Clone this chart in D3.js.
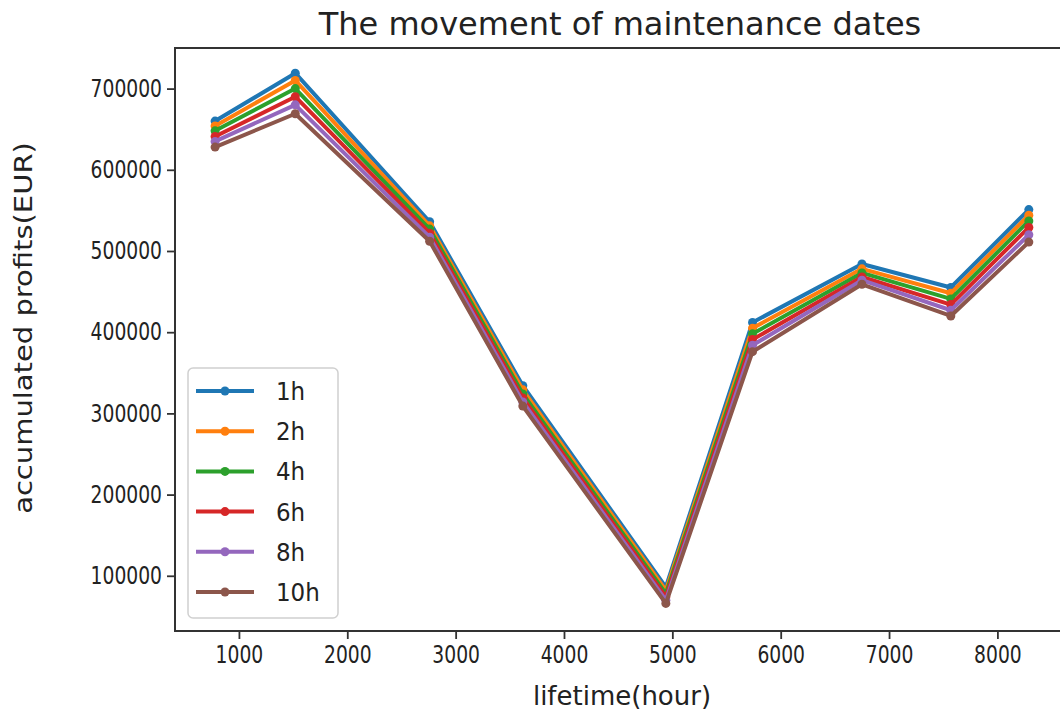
<!DOCTYPE html>
<html>
<head>
<meta charset="utf-8">
<script src="https://cdn.jsdelivr.net/npm/d3@7"></script>
<style>
  html, body { margin: 0; padding: 0; background: #fff; overflow: hidden; }
  svg { display: block; font-family: "DejaVu Sans", sans-serif; }
</style>
</head>
<body>
<svg id="chart" width="1060" height="715"></svg>
<script>
// Maintenance time points (hours of lifetime)
const lifetime = [780, 1520, 2760, 3620, 4940, 5740, 6750, 7570, 8290];

// Accumulated profits (EUR) for each maintenance duration
const series_1h  = [660000, 719000, 536000, 334000, 86000, 412000, 484000, 455000, 551000];
const series_2h  = [654000, 710000, 531000, 329000, 82000, 405000, 478000, 448000, 544000];
const series_4h  = [648000, 700000, 527000, 324000, 78000, 398000, 473000, 441000, 537000];
const series_6h  = [641000, 690000, 522000, 319000, 74000, 391000, 468000, 434000, 529000];
const series_8h  = [635000, 680000, 517000, 314000, 70000, 384000, 464000, 427000, 520000];
const series_10h = [628000, 669000, 512000, 309000, 66000, 376000, 459000, 420000, 511000];

const seriesNames = ["1h", "2h", "4h", "6h", "8h", "10h"];
const seriesValues = [series_1h, series_2h, series_4h, series_6h, series_8h, series_10h];
const colors = ["#1f77b4", "#ff7f0e", "#2ca02c", "#d62728", "#9467bd", "#8c564b"];

const xTicks = [1000, 2000, 3000, 4000, 5000, 6000, 7000, 8000];
const yTicks = [100000, 200000, 300000, 400000, 500000, 600000, 700000];

const svg = d3.select("#chart");
const plotLeft = 175, plotTop = 48, plotRight = 1070, plotBottom = 631;

const x = d3.scaleLinear().domain([410, 8670]).range([plotLeft, plotRight]);
const y = d3.scaleLinear().domain([32000, 750000]).range([plotBottom, plotTop]);

const textColor = "#222";
const tickFont = 24, tickStretch = 0.78;

// Axes
const xAxis = svg.append("g")
  .attr("transform", `translate(0,${plotBottom})`)
  .call(d3.axisBottom(x).tickValues(xTicks).tickFormat(d3.format("d")).tickSize(8).tickPadding(5));
const yAxis = svg.append("g")
  .attr("transform", `translate(${plotLeft},0)`)
  .call(d3.axisLeft(y).tickValues(yTicks).tickFormat(d3.format("d")).tickSize(8).tickPadding(5));

[xAxis, yAxis].forEach(g => {
  g.selectAll("line").attr("stroke", "#333").attr("stroke-width", 1.8);
  g.select(".domain").remove();
});

// Tick labels are drawn condensed around their anchor
xAxis.selectAll(".tick text")
  .attr("font-size", tickFont).attr("fill", textColor).attr("font-family", "DejaVu Sans")
  .attr("transform", `scale(${tickStretch},1)`)
  .attr("dy", "0.78em");
yAxis.selectAll(".tick text")
  .attr("font-size", tickFont).attr("fill", textColor).attr("font-family", "DejaVu Sans")
  .each(function () {
    const t = d3.select(this);
    const xx = +t.attr("x");
    t.attr("x", xx / tickStretch).attr("transform", `scale(${tickStretch},1)`);
  });

// Frame (right spine falls past the page edge)
svg.append("rect")
  .attr("x", plotLeft).attr("y", plotTop)
  .attr("width", plotRight - plotLeft).attr("height", plotBottom - plotTop)
  .attr("fill", "none").attr("stroke", "#333").attr("stroke-width", 2);

// Lines and markers
const line = d3.line().x((d, i) => x(lifetime[i])).y(d => y(d));
seriesValues.forEach((vals, k) => {
  svg.append("path")
    .datum(vals)
    .attr("d", line)
    .attr("fill", "none")
    .attr("stroke", colors[k])
    .attr("stroke-width", 4)
    .attr("stroke-linejoin", "round");
  svg.append("g").selectAll("circle")
    .data(vals)
    .join("circle")
    .attr("cx", (d, i) => x(lifetime[i]))
    .attr("cy", d => y(d))
    .attr("r", 4.5)
    .attr("fill", colors[k]);
});

// Title and axis labels
svg.append("text")
  .attr("x", 620).attr("y", 35)
  .attr("text-anchor", "middle")
  .attr("font-size", 32).attr("fill", textColor)
  .text("The movement of maintenance dates");

svg.append("text")
  .attr("x", 622).attr("y", 705)
  .attr("text-anchor", "middle")
  .attr("font-size", 26).attr("fill", textColor)
  .text("lifetime(hour)");

svg.append("text")
  .attr("transform", `translate(32,328) rotate(-90) scale(1,0.87)`)
  .attr("text-anchor", "middle")
  .attr("font-size", 29).attr("fill", textColor)
  .text("accumulated profits(EUR)");

// Legend
const lg = svg.append("g").attr("transform", "translate(188,368)");
lg.append("rect")
  .attr("x", 0).attr("y", 0).attr("width", 150).attr("height", 250)
  .attr("rx", 5).attr("fill", "#fff").attr("fill-opacity", 0.85)
  .attr("stroke", "#d0d0d0").attr("stroke-width", 1.5);
seriesNames.forEach((name, k) => {
  const cy = 23 + k * 40.2;
  lg.append("line")
    .attr("x1", 8).attr("x2", 66).attr("y1", cy).attr("y2", cy)
    .attr("stroke", colors[k]).attr("stroke-width", 4);
  lg.append("circle").attr("cx", 37).attr("cy", cy).attr("r", 4.5).attr("fill", colors[k]);
  lg.append("text")
    .attr("x", 88).attr("y", cy + 9)
    .attr("font-size", 25).attr("fill", textColor)
    .attr("transform", `translate(${88 * (1 - 0.92)},0) scale(0.92,1)`)
    .text(name);
});
</script>
</body>
</html>
